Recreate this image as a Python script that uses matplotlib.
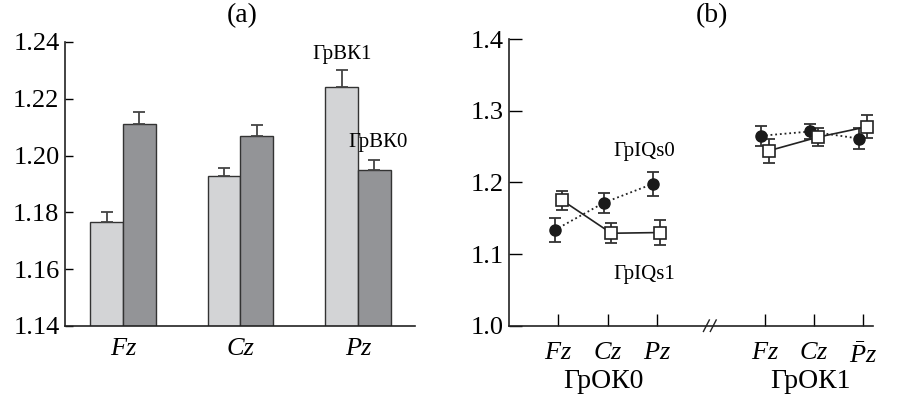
import matplotlib
matplotlib.use("Agg")
import matplotlib.pyplot as plt
import numpy as np

plt.rcParams['font.family'] = ['Liberation Serif', 'DejaVu Serif']
plt.rcParams['mathtext.fontset'] = 'custom'
plt.rcParams['mathtext.rm'] = 'Liberation Serif'
plt.rcParams['mathtext.it'] = 'Liberation Serif:italic'

# Panel (a) data
sites = ["Fz", "Cz", "Pz"]
bk1_vals = [1.1767, 1.1929, 1.2240]
bk1_err = [0.0033, 0.0028, 0.0061]
bk0_vals = [1.2112, 1.2070, 1.1950]
bk0_err = [0.0040, 0.0039, 0.0033]

# Panel (b) data
groups = ["ГрОК0", "ГрОК1"]
b_ticklabels = ["$Fz$", "$Cz$", "$Pz$", "$Fz$", "$Cz$", r"$\bar{P}z$"]
iqs0_g0 = [1.1335, 1.1716, 1.198]
iqs0_g0_err = [0.017, 0.014, 0.017]
iqs1_g0 = [1.175, 1.129, 1.130]
iqs1_g0_err = [0.013, 0.014, 0.017]
iqs0_g1 = [1.265, 1.271, 1.261]
iqs0_g1_err = [0.014, 0.010, 0.015]
iqs1_g1 = [1.244, 1.263, 1.2775]
iqs1_g1_err = [0.017, 0.0125, 0.016]

fig = plt.figure(figsize=(9.04, 3.96), dpi=100)

light = "#d3d4d6"
dark = "#939497"
edge = "#333333"

# ---------- Panel (a)
axa = fig.add_axes([0.0719, 0.1768, 0.459 - 0.0719, 0.894 - 0.1768])
x = np.arange(len(sites))
w = 0.277
axa.bar(x - w/2, bk1_vals, w, bottom=0, color=light, edgecolor=edge, linewidth=1.0,
        yerr=[np.zeros(3), bk1_err], error_kw=dict(ecolor="#444444", elinewidth=1.3, capsize=4, capthick=1.3))
axa.bar(x + w/2, bk0_vals, w, bottom=0, color=dark, edgecolor=edge, linewidth=1.0,
        yerr=[np.zeros(3), bk0_err], error_kw=dict(ecolor="#444444", elinewidth=1.3, capsize=4, capthick=1.3))
axa.set_ylim(1.14, 1.24)
axa.set_xlim(-0.494, 2.485)
axa.set_yticks([1.14, 1.16, 1.18, 1.20, 1.22, 1.24])
axa.set_yticklabels(["1.14", "1.16", "1.18", "1.20", "1.22", "1.24"], fontsize=19)
axa.set_xticks(x)
axa.set_xticklabels(sites, fontsize=19, style="italic")
axa.tick_params(axis="x", length=0, pad=9)
axa.tick_params(axis="y", direction="in", length=6, width=1.0, pad=4)
for s in ["top", "right"]:
    axa.spines[s].set_visible(False)
for s in ["left", "bottom"]:
    axa.spines[s].set_linewidth(1.2)
    axa.spines[s].set_color("#222222")
axa.text(2 - w/2, 1.2355, "ГрВК1", ha="center", va="center", fontsize=15)
axa.text(2 + w/2 + 0.03, 1.2045, "ГрВК0", ha="center", va="center", fontsize=15)
fig.text(242/904, 1 - 16/396, "(a)", ha="center", va="center", fontsize=20)

# ---------- Panel (b)
axb = fig.add_axes([0.5634, 0.1775, 0.9657 - 0.5634, 0.9015 - 0.1775])
pos0 = np.array([1.0, 2.0, 3.0])
pos1 = np.array([5.2, 6.2, 7.2])
off = 0.075
ekw = dict(ecolor="#333333", elinewidth=1.3, capsize=4, capthick=1.3)
for pos, v0, e0, v1, e1 in [(pos0, iqs0_g0, iqs0_g0_err, iqs1_g0, iqs1_g0_err),
                            (pos1, iqs0_g1, iqs0_g1_err, iqs1_g1, iqs1_g1_err)]:
    axb.errorbar(pos - off, v0, yerr=e0, fmt="none", **ekw, zorder=2)
    axb.plot(pos - off, v0, linestyle=(0, (1, 1.6)), color="#222222", linewidth=1.3,
             marker="o", markersize=8, markerfacecolor="#1a1a1a", markeredgecolor="#1a1a1a", zorder=3)
    axb.errorbar(pos + off, v1, yerr=e1, fmt="none", **ekw, zorder=2)
    axb.plot(pos + off, v1, linestyle="-", color="#222222", linewidth=1.2,
             marker="s", markersize=8, markerfacecolor="white", markeredgecolor="#222222",
             markeredgewidth=1.2, zorder=4)
axb.set_xlim(0, 7.4)
axb.set_ylim(1.0, 1.4)
axb.set_yticks([1.0, 1.1, 1.2, 1.3, 1.4])
axb.set_yticklabels(["1.0", "1.1", "1.2", "1.3", "1.4"], fontsize=19)
allpos = np.concatenate([pos0, pos1])
axb.set_xticks(allpos)
axb.set_xticklabels(b_ticklabels, fontsize=19)
axb.tick_params(axis="x", direction="in", length=9, width=1.0, pad=12)
axb.tick_params(axis="y", direction="in", length=9, width=1.0, pad=4)
for s in ["top", "right"]:
    axb.spines[s].set_visible(False)
for s in ["left", "bottom"]:
    axb.spines[s].set_linewidth(1.2)
    axb.spines[s].set_color("#222222")
# axis break marks
bx = 4.08
for dx in (-0.07, 0.07):
    axb.plot([bx + dx - 0.06, bx + dx + 0.06], [0.992, 1.008], color="#222222",
             linewidth=1.0, clip_on=False)
axb.text(2.75, 1.243, "ГрIQs0", ha="center", va="center", fontsize=15)
axb.text(2.75, 1.072, "ГрIQs1", ha="center", va="center", fontsize=15)
fig.text(603 / 904, 1 - 381 / 396, groups[0], ha="center", va="center", fontsize=20)
fig.text(810 / 904, 1 - 381 / 396, groups[1], ha="center", va="center", fontsize=20)
fig.text(712 / 904, 1 - 16 / 396, "(b)", ha="center", va="center", fontsize=20)

fig.savefig("out.png", dpi=100)
